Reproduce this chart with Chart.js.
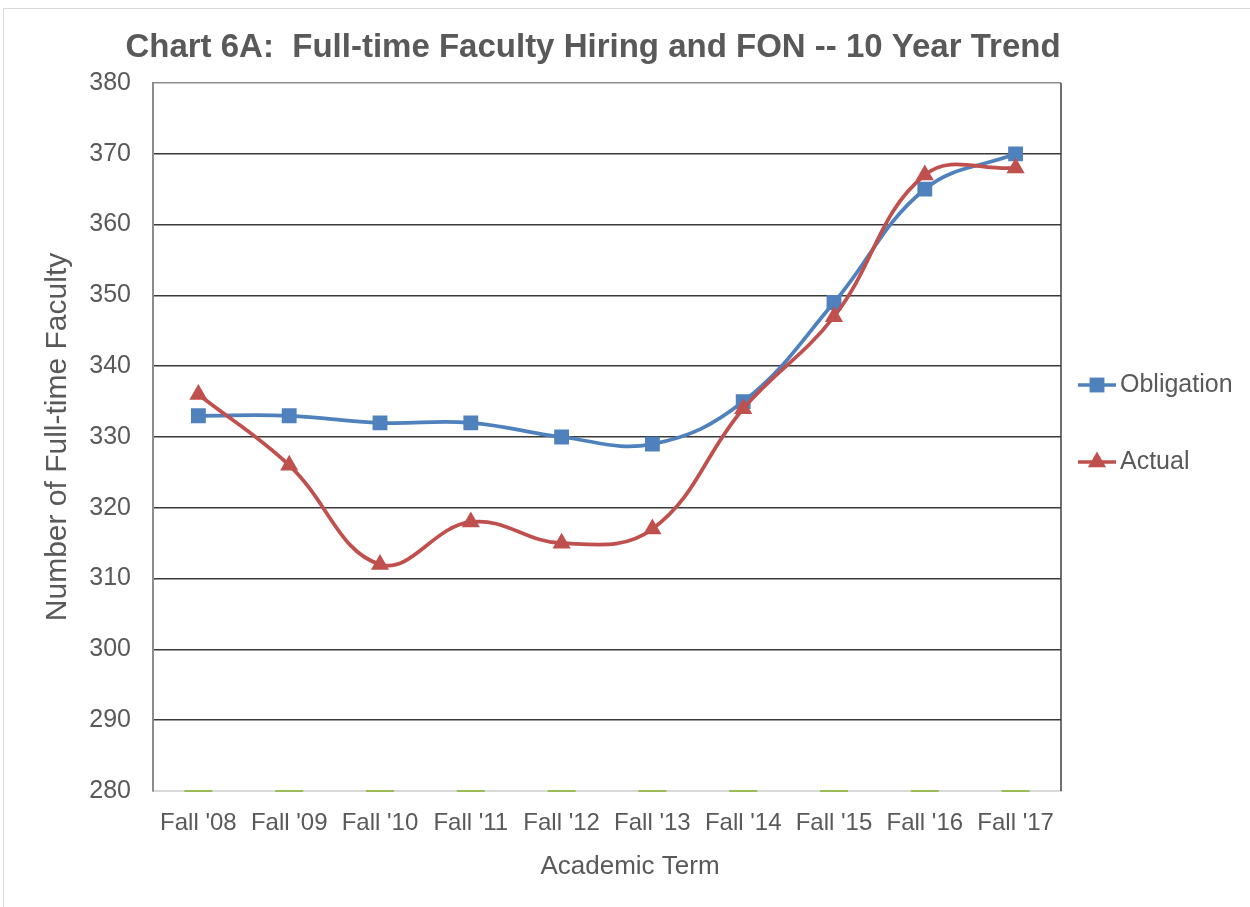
<!DOCTYPE html>
<html><head><meta charset="utf-8">
<script src="https://cdn.jsdelivr.net/npm/chart.js@4.4.1/dist/chart.umd.min.js"></script>
<style>html,body{margin:0;padding:0;background:#fff;}#wrap{width:1250px;height:907px;}</style>
</head><body><div id="wrap"><canvas id="c" width="1250" height="907"></canvas></div>
<script>
const categories = ["Fall '08","Fall '09","Fall '10","Fall '11","Fall '12","Fall '13","Fall '14","Fall '15","Fall '16","Fall '17"];
const obligation = [333,333,332,332,330,329,335,349,365,370];
const actual = [336,326,312,318,315,317,334,347,367,368];
const baseline = [280,280,280,280,280,280,280,280,280,280];
const yTicks = [280,290,300,310,320,330,340,350,360,370,380];
const chartTitle = 'Chart 6A:  Full-time Faculty Hiring and FON -- 10 Year Trend';
const xTitle = 'Academic Term';
const yTitle = 'Number of Full-time Faculty';

const FONT = "'Liberation Sans', Arial, sans-serif";
const TXT = '#595959';

const framePlugin = {
  id:'frame',
  beforeDraw(chart){
    const ctx = chart.ctx;
    ctx.save();
    ctx.strokeStyle = '#D9D9D9'; ctx.lineWidth = 1;
    ctx.strokeRect(3.5, 8.5, 1300, 1000);
    ctx.restore();
  },
  afterDraw(chart){
    const ctx = chart.ctx, a = chart.chartArea;
    ctx.save();
    ctx.strokeStyle = '#404040'; ctx.lineWidth = 1.5;
    ctx.beginPath(); ctx.moveTo(a.right, a.top); ctx.lineTo(a.right, a.bottom); ctx.stroke();
    // title
    ctx.fillStyle = TXT; ctx.textAlign = 'center'; ctx.textBaseline = 'middle';
    ctx.font = "bold 33px " + FONT;
    ctx.fillText(chartTitle, 593, 48);
    // x axis title
    ctx.font = "26px " + FONT;
    ctx.fillText(xTitle, 630, 867);
    // legend
    const items = [{ds:0,y:385},{ds:1,y:462}];
    ctx.font = "25px " + FONT; ctx.textBaseline = 'middle'; ctx.textAlign='left';
    items.forEach(it=>{
      const ds = chart.data.datasets[it.ds];
      ctx.strokeStyle = ds.borderColor; ctx.lineWidth = 3.5;
      ctx.beginPath(); ctx.moveTo(1078, it.y); ctx.lineTo(1116, it.y); ctx.stroke();
      ctx.fillStyle = ds.borderColor;
      ctx.beginPath();
      if (ds.pointStyle === 'rect') { const s = ds.pointRadius*Math.SQRT1_2; ctx.rect(1097-s, it.y-s, 2*s, 2*s); }
      else { const r = ds.pointRadius; ctx.moveTo(1097, it.y - r); ctx.lineTo(1097 + r*Math.sin(2*Math.PI/3), it.y - r*Math.cos(2*Math.PI/3)); ctx.lineTo(1097 + r*Math.sin(4*Math.PI/3), it.y - r*Math.cos(4*Math.PI/3)); ctx.closePath(); }
      ctx.fill();
      ctx.fillStyle = TXT;
      ctx.fillText(ds.label, 1120, it.y);
    });
    ctx.restore();
  }
};

new Chart(document.getElementById('c'), {
  type:'line',
  data:{
    labels: categories,
    datasets:[
      {label:'Obligation', data:obligation, borderColor:'#4F81BD', backgroundColor:'#4F81BD', borderWidth:3.75, tension:0.4,
       pointStyle:'rect', pointRadius:10.5, pointBackgroundColor:'#4F81BD', pointBorderColor:'#4F81BD', pointBorderWidth:0, order:2},
      {label:'Actual', data:actual, borderColor:'#C0504D', backgroundColor:'#C0504D', borderWidth:3.75, tension:0.4,
       pointStyle:'triangle', pointRadius:10.5, pointBackgroundColor:'#C0504D', pointBorderColor:'#C0504D', pointBorderWidth:0, order:1},
      {label:'', data:baseline, showLine:false, pointStyle:'line', pointRadius:14, pointBorderColor:'#9BBB59', pointBorderWidth:2, borderColor:'#9BBB59', clip:false, order:3}
    ]
  },
  options:{
    responsive:false, animation:false, devicePixelRatio:1,
    layout:{padding:{left:40, right:189, top:83, bottom:25}},
    plugins:{
      legend:{display:false},
      tooltip:{enabled:false},
      title:{display:false}
    },
    scales:{
      x:{
        offset:true,
        grid:{display:false, drawTicks:false},
        border:{display:true, color:'#D9D9D9', width:2},
        ticks:{color:TXT, font:{family:FONT, size:24}, padding:18, maxRotation:0, autoSkip:false},
        title:{display:false},
        afterFit(s){ s.height = 907 - 791 - 25; }
      },
      y:{
        min:280, max:380,
        afterBuildTicks(s){ s.ticks = yTicks.map(v=>({value:v})); },
        grid:{drawTicks:false, lineWidth:1.5, color(ctx){ const v = ctx.tick && ctx.tick.value; if (v===280) return '#D9D9D9'; if (v===380) return '#8C8C8C'; return '#3A3A3A'; }},
        border:{display:true, color:'#8C8C8C', width:2},
        ticks:{color:TXT, font:{family:FONT, size:25}, padding:22},
        title:{display:true, text:yTitle, color:TXT, font:{family:FONT, size:30}, padding:{top:0,bottom:0}},
        afterFit(s){ s.width = 153 - 40; }
      }
    }
  },
  plugins:[framePlugin]
});
</script></body></html>
